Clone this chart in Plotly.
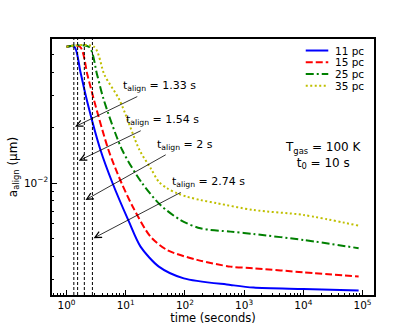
import math

import plotly.graph_objects as go

# ---------------------------------------------------------------------------
# Data
# ---------------------------------------------------------------------------

SERIES = ['11 pc', '15 pc', '25 pc', '35 pc']

# time [s] and a_align [um] for each distance
t_11 = [1.0, 1.36, 1.72, 2.24, 3.75, 5.98, 11.2, 17.8, 36.3, 95.8, 589, 1440, 1.01e4, 8.6e4]
a_11 = [0.0551, 0.0551, 0.0401, 0.02765, 0.01511, 0.0100, 0.00622, 0.00451, 0.00351,
        0.00303, 0.00279, 0.00270, 0.00265, 0.00260]

t_15 = [1.0, 1.69, 2.26, 2.91, 5.12, 8.49, 13.5, 26.2, 50.2, 161, 589, 1440, 1.01e4, 8.6e4]
a_15 = [0.0551, 0.0551, 0.0386, 0.02825, 0.01511, 0.0100, 0.00731, 0.00511, 0.00432,
        0.00382, 0.00351, 0.00344, 0.00327, 0.00310]

t_25 = [1.0, 2.38, 3.30, 4.27, 8.73, 19.0, 38.7, 84.3, 183, 589, 1440, 1.01e4, 8.6e4]
a_25 = [0.0551, 0.0551, 0.0386, 0.02825, 0.01511, 0.00996, 0.00759, 0.00629, 0.00567,
        0.00544, 0.00528, 0.00490, 0.00442]

t_35 = [1.0, 2.91, 4.39, 7.86, 17.1, 26.2, 36.3, 50.2, 74.1, 109, 183, 351, 1440, 1.01e4, 8.6e4]
a_35 = [0.0551, 0.0551, 0.0386, 0.02825, 0.01511, 0.01208, 0.01016, 0.00936, 0.00879,
        0.00842, 0.00808, 0.00776, 0.00713, 0.00670, 0.00586]

# alignment times marked by the vertical lines / arrows
T_ALIGN = [1.33, 1.54, 2, 2.74]

# ---------------------------------------------------------------------------
# Styles
# ---------------------------------------------------------------------------

FONT = 'DejaVu Sans'
STYLES = [
    dict(color='#0000ff', width=2, dash='solid'),
    dict(color='#ff0000', width=2, dash='7px,3px'),
    dict(color='#008000', width=2, dash='8px,3px,2px,3px'),
    dict(color='#bfbf00', width=2, dash='2px,2.5px'),
]

# log-axis ranges (log10 units)
X_RANGE = [-0.245, 5.194]
Y_RANGE = [-2.609, -1.217]

# ---------------------------------------------------------------------------
# Figure
# ---------------------------------------------------------------------------

fig = go.Figure()

for name, t, a, st in zip(SERIES, [t_11, t_15, t_25, t_35],
                          [a_11, a_15, a_25, a_35], STYLES):
    fig.add_trace(go.Scatter(
        x=t, y=a, mode='lines', name=name, showlegend=False,
        line=dict(color=st['color'], width=st['width'], dash=st['dash'],
                  shape='spline', smoothing=0.8),
    ))

# vertical dashed lines at the alignment times
for t in T_ALIGN:
    fig.add_vline(x=t, line=dict(color='black', width=1, dash='3px,2px'))

# arrows + labels (positions in log10 axis units)
arrow_tails = [(1.221, -1.526), (1.279, -1.712), (1.701, -1.842), (1.954, -2.047)]
arrow_heads_y = [-1.694, -1.879, -2.092, -2.300]
label_pos = [(0.912, -1.473), (0.963, -1.658), (1.487, -1.794), (1.740, -1.995)]

for t, (ax_, ay_), hy, (lx, ly) in zip(T_ALIGN, arrow_tails, arrow_heads_y, label_pos):
    fig.add_annotation(
        x=math.log10(t) + 0.02, y=hy, ax=ax_, ay=ay_,
        xref='x', yref='y', axref='x', ayref='y',
        text='', showarrow=True, arrowhead=5, arrowsize=1.6,
        arrowwidth=0.8, arrowcolor='black', standoff=0,
    )
    fig.add_annotation(
        x=lx, y=ly, xref='x', yref='y', showarrow=False,
        xanchor='left', yanchor='middle',
        text=f't<sub>align</sub> = {t:g} s',
        font=dict(family=FONT, size=11, color='black'),
    )

# environment text
fig.add_annotation(
    x=0.843, y=0.543, xref='paper', yref='paper', showarrow=False,
    xanchor='center', yanchor='middle',
    text='T<sub>gas</sub> = 100 K<br>t<sub>0</sub> = 10 s', align='center',
    font=dict(family=FONT, size=12, color='black'),
)

# hand-made legend (compact row spacing like the reference)
for i, (name, st) in enumerate(zip(SERIES, STYLES)):
    yy = 0.955 - i * 0.046
    fig.add_shape(
        type='line', xref='paper', yref='paper',
        x0=0.788, x1=0.858, y0=yy, y1=yy,
        line=dict(color=st['color'], width=st['width'], dash=st['dash']),
    )
    fig.add_annotation(
        x=0.872, y=yy, xref='paper', yref='paper', showarrow=False,
        xanchor='left', yanchor='middle', text=name,
        font=dict(family=FONT, size=10.5, color='black'),
    )

minor_x = [m * 10 ** d for d in range(-1, 6) for m in range(2, 10)]
minor_y = [m * 10 ** d for d in range(-3, -1) for m in range(2, 10)]

fig.update_xaxes(
    type='log', range=X_RANGE, automargin=False,
    tickvals=[1, 10, 100, 1e3, 1e4, 1e5],
    ticktext=[f'10<sup>{k}</sup>' for k in range(6)],
    ticks='inside', ticklen=5, tickwidth=1, tickcolor='black',
    minor=dict(ticks='inside', ticklen=2.5, tickwidth=1, tickcolor='black',
               tickvals=minor_x, showgrid=False),
    showline=True, linecolor='black', linewidth=1.5, mirror=True,
    showgrid=False, zeroline=False,
    tickfont=dict(family=FONT, size=10.5, color='black'),
    title=dict(text='time (seconds)', standoff=2,
               font=dict(family=FONT, size=11.5, color='black')),
)
fig.update_yaxes(
    type='log', range=Y_RANGE, automargin=False,
    tickvals=[0.01], ticktext=['10<sup>\u22122</sup>'],
    ticks='inside', ticklen=5, tickwidth=1, tickcolor='black',
    minor=dict(ticks='inside', ticklen=2.5, tickwidth=1, tickcolor='black',
               tickvals=minor_y, showgrid=False),
    showline=True, linecolor='black', linewidth=1.5, mirror=True,
    showgrid=False, zeroline=False,
    tickfont=dict(family=FONT, size=10.5, color='black'),
    title=dict(text='a<sub>align</sub> (\u03bcm)', standoff=4,
               font=dict(family=FONT, size=12, color='black')),
)

fig.update_layout(
    width=415, height=332,
    margin=dict(l=52, r=41, t=39, b=37),
    paper_bgcolor='white', plot_bgcolor='white',
    showlegend=False,
)

# drop the browser's default 8px body margin so the figure sits at (0, 0)
fig.write_html('out.html',
               config={'displayModeBar': False},
               post_script="document.body.style.margin='0';"
                           "document.body.style.overflow='hidden';")
